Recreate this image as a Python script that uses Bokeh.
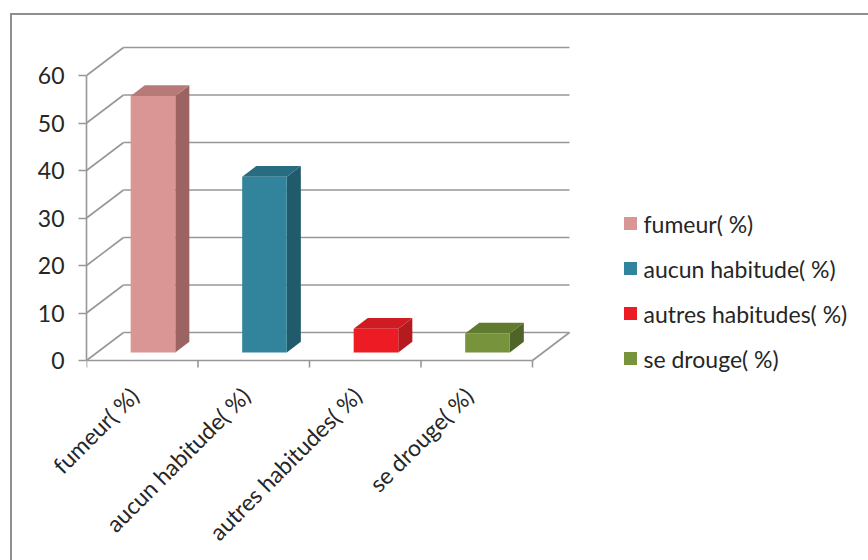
import math
from bokeh.plotting import figure
from bokeh.models import Range1d, LinearAxis, FixedTicker, InlineStyleSheet
from bokeh.core.properties import value
from bokeh.embed import file_html
from bokeh.resources import INLINE

# ---- data ----
categories = ["fumeur( %)", "aucun habitude( %)", "autres habitudes( %)", "se drouge( %)"]
values = [54, 37, 5, 4]
front_colors = ["#D99694", "#31849B", "#ED1C24", "#77933C"]
side_colors = ["#9B6463", "#215A6A", "#B51A1F", "#506328"]
top_colors = ["#B87A78", "#276C80", "#CF1C22", "#607A30"]
y_ticks = [0, 10, 20, 30, 40, 50, 60]

# ---- layout constants (pixels) ----
W, H = 868, 560
LEFT_PX = 86          # frame left edge
ZERO_PX = 360         # pixel row of value 0 on the front plane
FRAME_BOTTOM_PX = 375
PX_X = 111.5          # pixels per category
PX_Y = 4.75           # pixels per value unit
DX = 37 / PX_X        # depth offset (data units)
DY = 28 / PX_Y
F0 = 0.29             # bar front depth fraction
BD = 0.38             # bar depth fraction
BW = 0.40             # bar width (category units)
LABEL_SHIFT_PX = 8    # category labels sit slightly left of the centre
GRID = "#979797"
TEXT = "#262626"
FONT = "Lato"
FS = "23px"

n = len(categories)

p = figure(width=W, height=H, output_backend="svg", toolbar_location=None,
           x_range=Range1d(0, (W - LEFT_PX) / PX_X),
           y_range=Range1d(-(FRAME_BOTTOM_PX - ZERO_PX) / PX_Y, ZERO_PX / PX_Y),
           min_border_left=LEFT_PX, min_border_right=0, min_border_top=0,
           min_border_bottom=H - FRAME_BOTTOM_PX,
           x_axis_type=None, y_axis_type=None)
p.outline_line_color = None
p.background_fill_color = "white"
p.border_fill_color = "white"

# ---- walls / floor ----
top_t = max(y_ticks)
p.segment([DX] * len(y_ticks), [t + DY for t in y_ticks],
          [n + DX] * len(y_ticks), [t + DY for t in y_ticks],
          line_color=GRID, line_width=1.6)
p.segment([0] * len(y_ticks), y_ticks, [DX] * len(y_ticks), [t + DY for t in y_ticks],
          line_color=GRID, line_width=1.6)
p.segment([n], [0], [n + DX], [DY], line_color=GRID, line_width=1.6)
# front floor edge (category axis line) and its ticks
p.segment([0], [0], [n], [0], line_color=GRID, line_width=1.6)
p.segment(list(range(n + 1)), [0] * (n + 1), list(range(n + 1)), [-7 / PX_Y] * (n + 1),
          line_color=GRID, line_width=1.6)

# ---- 3D bars ----
fx, fy, sx, sy, tx, ty = [], [], [], [], [], []
for i, v in enumerate(values):
    xl = i + 0.5 - BW / 2 + F0 * DX
    xr = i + 0.5 + BW / 2 + F0 * DX
    y0 = F0 * DY
    y1 = v + F0 * DY
    bdx, bdy = BD * DX, BD * DY
    fx.append([xl, xr, xr, xl]); fy.append([y0, y0, y1, y1])
    sx.append([xr, xr + bdx, xr + bdx, xr]); sy.append([y0, y0 + bdy, y1 + bdy, y1])
    tx.append([xl, xr, xr + bdx, xl + bdx]); ty.append([y1, y1, y1 + bdy, y1 + bdy])
p.patches(sx, sy, fill_color=side_colors, line_color=None)
p.patches(tx, ty, fill_color=top_colors, line_color=None)
p.patches(fx, fy, fill_color=front_colors, line_color=None)

# ---- value axis ----
yax = LinearAxis(ticker=FixedTicker(ticks=y_ticks), bounds=(0, top_t))
yax.axis_line_color = GRID
yax.axis_line_width = 1.6
yax.major_tick_line_color = GRID
yax.major_tick_line_width = 1.6
yax.major_tick_out = 8
yax.major_tick_in = 0
yax.minor_tick_line_color = None
yax.major_label_standoff = 14
yax.major_label_text_font = FONT
yax.major_label_text_font_size = FS
yax.major_label_text_color = TEXT
p.add_layout(yax, "left")

# ---- category axis (labels only) ----
centers = [i + 0.5 - LABEL_SHIFT_PX / PX_X for i in range(n)]
xax = LinearAxis(ticker=FixedTicker(ticks=centers),
                 major_label_overrides={c: lab for c, lab in zip(centers, categories)})
xax.axis_line_color = None
xax.major_tick_line_color = None
xax.minor_tick_line_color = None
xax.major_label_orientation = math.pi / 4
xax.major_label_standoff = 10
xax.major_label_text_font = FONT
xax.major_label_text_font_size = FS
xax.major_label_text_color = TEXT
p.add_layout(xax, "below")

# ---- legend (drawn) ----
LEG_SQ_PX = 630
LEG_TXT_PX = 643
LEG_Y0_PX = 223
LEG_STEP_PX = 45
lx = [(LEG_SQ_PX - LEFT_PX) / PX_X] * n
ly = [(ZERO_PX - (LEG_Y0_PX + k * LEG_STEP_PX)) / PX_Y for k in range(n)]
p.scatter(lx, ly, marker="square", size=13, fill_color=front_colors, line_color=None)
p.text([(LEG_TXT_PX - LEFT_PX) / PX_X] * n, ly, text=categories,
       text_font=value(FONT), text_font_size=FS, text_color=TEXT,
       text_baseline="middle", text_align="left")

# ---- chart border (top and left edges of the chart area) ----
p.stylesheets = [InlineStyleSheet(css="""
:host { position: relative; }
:host::after {
  content: ""; position: absolute; left: 10px; top: 13px; right: 0; bottom: 0;
  border-top: 2px solid #8F8F8F; border-left: 2px solid #8F8F8F;
  pointer-events: none; z-index: 10;
}
""")]

open("out.html", "w").write(file_html(p, INLINE))
